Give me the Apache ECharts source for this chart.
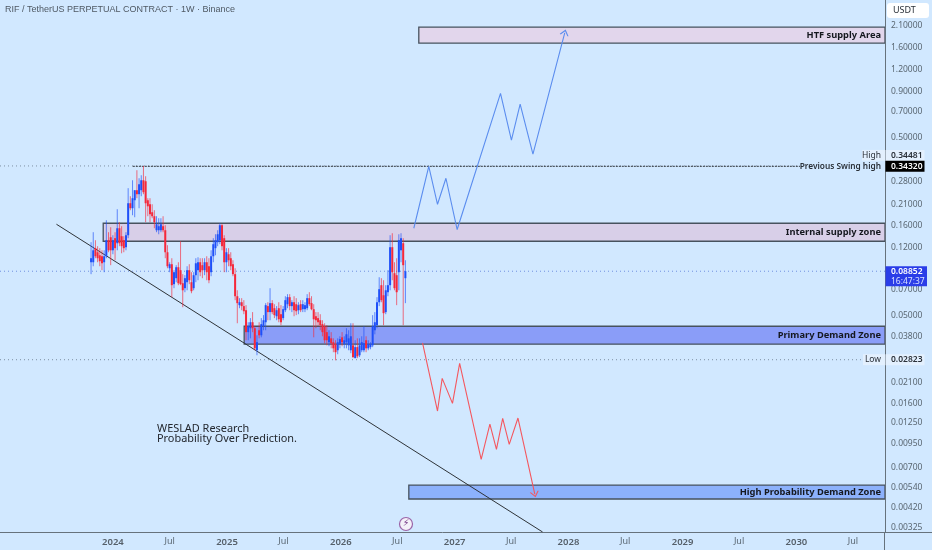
<!DOCTYPE html>
<html><head><meta charset="utf-8">
<style>html,body{margin:0;padding:0;background:#d1e8ff}#c{width:932px;height:550px}</style>
<script src="https://cdn.jsdelivr.net/npm/echarts@6/dist/echarts.min.js"></script>
</head><body><div id="c"></div>
<script>
const opens=[.0994,.0994,.1192,.1131,.1088,.1074,.0994,.1074,.1321,.1373,
.1160,.1356,.1271,.1542,.1391,.1321,.1207,.1409,.2130,.1997,
.2214,.2520,.2393,.2520,.2866,.2829,.2214,.2102,.1896,.1801,
.1503,.1503,.1503,.1583,.1503,.1131,.0920,.0969,.0749,.0809,
.0932,.0897,.0758,.0711,.0768,.0897,.0768,.0711,.0841,.0897,
.0994,.0957,.0897,.0994,.0944,.0874,.1074,.1192,.1288,.1321,
.1603,.1356,.0994,.1102,.1047,.0969,.0852,.0641,.0571,.0593,
.0564,.0535,.0403,.0424,.0458,.0424,.0319,.0413,.0387,.0435,
.0458,.0564,.0522,.0586,.0549,.0495,.0549,.0508,.0483,.0535,
.0578,.0633,.0564,.0593,.0578,.0535,.0578,.0542,.0542,.0549,
.0625,.0586,.0542,.0495,.0483,.0470,.0447,.0435,.0403,.0354,
.0372,.0354,.0345,.0319,.0345,.0377,.0345,.0354,.0340,.0319,
.0340,.0288,.0332,.0299,.0319,.0319,.0363,.0327,.0332,.0340,
.0413,.0441,.0593,.0739,.0649,.0522,.0675,.0739,.1207,.0863,
.0841,.0874,.1160,.1271,.0809];
const highs=[.1288,.1465,.1321,.1223,.1192,.1160,.1160,.1710,.1465,.1562,
.1409,.1465,.1971,.1667,.1583,.1391,.1465,.2587,.2332,.2866,
.2520,.3262,.2941,.3058,.3448,.3019,.2273,.2273,.2102,.1946,
.1801,.1755,.1755,.1801,.1603,.1238,.0994,.1047,.0897,.0957,
.0994,.1304,.0852,.0841,.0944,.0969,.0874,.0874,.1047,.1060,
.1047,.1047,.1047,.1074,.1047,.1160,.1356,.1427,.1503,.1645,
.1624,.1409,.1192,.1192,.1131,.1020,.0920,.0692,.0625,.0625,
.0609,.0571,.0458,.0483,.0522,.0435,.0387,.0458,.0483,.0502,
.0586,.0593,.0711,.0609,.0578,.0564,.0593,.0571,.0564,.0641,
.0658,.0658,.0609,.0641,.0625,.0593,.0609,.0609,.0593,.0658,
.0675,.0641,.0578,.0522,.0522,.0508,.0470,.0452,.0441,.0413,
.0403,.0372,.0363,.0372,.0382,.0403,.0382,.0424,.0413,.0452,
.0452,.0363,.0372,.0372,.0382,.0435,.0382,.0363,.0354,.0502,
.0522,.0633,.0819,.0809,.0788,.0739,.0897,.1409,.1446,.0994,
.1047,.1427,.1446,.1356,.1020];
const lows=[.0852,.0944,.1047,.0994,.0944,.0897,.0874,.1047,.1131,.0957,
.1102,.1020,.1160,.1223,.1116,.1131,.1160,.1356,.1946,.1824,
.1778,.2273,.1997,.2332,.2393,.1667,.1801,.1667,.1755,.1542,
.1465,.1427,.1465,.1465,.1047,.0920,.0874,.0633,.0711,.0768,
.0739,.0739,.0556,.0675,.0692,.0749,.0666,.0692,.0768,.0788,
.0830,.0809,.0841,.0788,.0758,.0830,.0994,.1088,.1223,.1255,
.1160,.0874,.0874,.0944,.0897,.0830,.0609,.0452,.0549,.0535,
.0508,.0363,.0363,.0372,.0403,.0319,.0299,.0372,.0377,.0413,
.0413,.0470,.0470,.0508,.0483,.0470,.0458,.0441,.0470,.0522,
.0549,.0535,.0522,.0495,.0502,.0508,.0522,.0522,.0522,.0535,
.0564,.0535,.0377,.0424,.0435,.0413,.0382,.0349,.0340,.0336,
.0327,.0311,.0280,.0303,.0327,.0336,.0327,.0327,.0319,.0307,
.0288,.0288,.0288,.0292,.0311,.0311,.0311,.0319,.0323,.0332,
.0392,.0424,.0564,.0593,.0441,.0508,.0641,.0692,.0788,.0692,
.0571,.0692,.0994,.0441,.0586];
const closes=[.1047,.1160,.1074,.1047,.1007,.0981,.1074,.1321,.1160,.1160,
.1321,.1192,.1542,.1271,.1223,.1192,.1409,.2130,.1997,.2273,
.2520,.2393,.2722,.2866,.2456,.2130,.2048,.1848,.1801,.1667,
.1624,.1583,.1624,.1503,.1131,.0944,.0969,.0739,.0874,.0932,
.0758,.0749,.0692,.0809,.0897,.0788,.0684,.0841,.0981,.0994,
.0874,.0897,.0994,.0874,.0788,.1074,.1255,.1321,.1427,.1603,
.1223,.0994,.1131,.1020,.0944,.0852,.0641,.0586,.0593,.0564,
.0528,.0403,.0435,.0458,.0424,.0327,.0354,.0387,.0447,.0470,
.0571,.0522,.0586,.0522,.0502,.0535,.0476,.0458,.0542,.0609,
.0633,.0564,.0593,.0535,.0528,.0571,.0535,.0578,.0571,.0625,
.0578,.0542,.0476,.0470,.0458,.0441,.0403,.0363,.0363,.0382,
.0349,.0327,.0311,.0354,.0368,.0354,.0363,.0392,.0372,.0382,
.0292,.0332,.0295,.0340,.0354,.0349,.0327,.0345,.0345,.0435,
.0458,.0593,.0702,.0609,.0515,.0692,.0739,.1207,.0874,.0711,
.0675,.1321,.1356,.0957,.08852];
const lastCandleDate='2026-07-27';

const yTicks=[2.1,1.6,1.2,.9,.7,.5,.28,.21,.16,.12,.07,.05,.038,.021,.016,.0125,.0095,.007,.0054,.0042,.00325];
const xTicks=['2024-01-01','2024-07-01','2025-01-01','2025-07-01','2026-01-01','2026-07-01','2027-01-01','2027-07-01','2028-01-01','2028-07-01','2029-01-01','2029-07-01','2030-01-01','2030-07-01'];

const bullDates=['2026-08-23','2026-10-10','2026-11-07','2026-12-04','2027-01-09','2027-05-28','2027-07-02','2027-07-30','2027-09-09','2027-12-20'];
const bullPrices=[.1542,.3433,.2102,.2941,.1517,.880,.4817,.7664,.4018,1.925];
const bearDates=['2026-09-20','2026-11-07','2026-11-22','2026-12-25','2027-01-17','2027-03-27','2027-04-24','2027-05-15','2027-06-04','2027-06-25','2027-07-23','2027-09-15'];
const bearPrices=[.0351,.01455,.02219,.01606,.02694,.0078,.0123,.00887,.01323,.00946,.01329,.00498];
const trendDates=['2023-07-04','2027-10-10'];
const trendPrices=[.1624,.00305];

const zoneNames=['HTF supply Area','Internal supply zone','Primary Demand Zone','High Probability Demand Zone'];
const zoneStarts=['2026-09-08','2023-12-01','2025-02-25','2026-08-07'];
const zoneTops=[2.07,.1645,.0435,.00559];
const zoneBottoms=[1.685,.1304,.0345,.00467];

const swingHigh=.3432, allHigh=.34481, allLow=.02823, lastPrice=.08852;
const swingStart='2024-03-05';
const AX_MIN=+new Date('2023-01-04'), AX_MAX=+new Date('2030-10-12');

const UP='#1f50f8', DOWN='#f5283a', BG='#d1e8ff', AXTXT='#5a6772';
const ms=d=>+new Date(d);
const WEEK=7*864e5, lastMs=ms(lastCandleDate), N=opens.length;
const candleData=opens.map((o,i)=>[lastMs-(N-1-i)*WEEK,o,highs[i],lows[i],closes[i]]);
const zoneFill=['#e2d6ec','#d8cfe8','#8a9df8','#8cb1fc'];

const renderCandle=(p,api)=>{
  const t=api.value(0),o=api.value(1),h=api.value(2),l=api.value(3),c=api.value(4);
  const col=c>=o?UP:DOWN, x=api.coord([t,o])[0];
  const yo=api.coord([t,o])[1],yc=api.coord([t,c])[1],yh=api.coord([t,h])[1],yl=api.coord([t,l])[1];
  return {type:'group',children:[
    {type:'line',shape:{x1:x,y1:yh,x2:x,y2:yl},style:{stroke:col,lineWidth:1,opacity:.65}},
    {type:'rect',shape:{x:x-1,y:Math.min(yo,yc),width:2,height:Math.max(Math.abs(yo-yc),1)},style:{fill:col}}
  ]};
};
const renderZone=(p,api)=>{
  const i=p.dataIndex;
  const a=api.coord([api.value(0),api.value(1)]), b=api.coord([AX_MAX,api.value(2)]);
  return {type:'group',children:[
    {type:'rect',shape:{x:a[0],y:a[1],width:b[0]-a[0],height:b[1]-a[1]},style:{fill:zoneFill[i],stroke:'#47525e',lineWidth:1.3}},
  ]};
};
const renderZoneText=(p,api)=>{
  const a=api.coord([AX_MAX,api.value(1)]), b=api.coord([AX_MAX,api.value(2)]);
  return {type:'text',style:{x:a[0]-4,y:(a[1]+b[1])/2,text:zoneNames[p.dataIndex],align:'right',verticalAlign:'middle',
    font:'bold 9.3px "Noto Sans"',fill:'#15181f'}};
};
const fmtPx=v=>v.toFixed(5);
const tagBox=[
 {v:allHigh,label:'High',val:fmtPx(allHigh),dy:-10.5,bg:'#e3f0fe',fg:'#2a3038',w:39,lw:23},
 {v:swingHigh,label:'Previous Swing high',val:fmtPx(swingHigh),dy:0,bg:'#000000',fg:'#ffffff',w:39,lw:85,lbg:BG},
 {v:allLow,label:'Low',val:fmtPx(allLow),dy:0,bg:'#e3f0fe',fg:'#2a3038',w:39,lw:22},
];
const renderTag=(p,api)=>{
  const t=tagBox[p.dataIndex], c=api.coord([AX_MAX,api.value(0)]), y=c[1]+t.dy, x=c[0];
  const k=[
    {type:'rect',shape:{x:x-t.lw,y:y-5.5,width:t.lw,height:11},style:{fill:t.lbg||'#e3f0fe'}},
    {type:'text',style:{x:x-4,y:y,text:t.label,align:'right',verticalAlign:'middle',font:(t.lbg?'600 8.3px ':'8.5px ')+'"Noto Sans"',fill:'#2a3038'}},
    {type:'rect',shape:{x:x+.5,y:y-5.5,width:t.w,height:11},style:{fill:t.bg}},
    {type:'text',style:{x:x+6,y:y,text:t.val,align:'left',verticalAlign:'middle',font:'600 8.5px "Noto Sans"',fill:t.fg}}
  ];
  return {type:'group',children:k};
};
const renderLast=(p,api)=>{
  const c=api.coord([AX_MAX,api.value(0)]), x=c[0], y=c[1];
  return {type:'group',children:[
    {type:'rect',shape:{x:x+.5,y:y-5,width:41.5,height:20},style:{fill:'#2a3de8'}},
    {type:'text',style:{x:x+6,y:y+.5,text:fmtPx(lastPrice),verticalAlign:'middle',font:'600 8.5px "Noto Sans"',fill:'#fff'}},
    {type:'text',style:{x:x+6,y:y+10,text:'16:47:37',verticalAlign:'middle',font:'8.5px "Noto Sans"',fill:'#d8e0ff'}}
  ]};
};
const flat=(v,style,from)=>({type:'line',data:[[from||AX_MIN,v],[AX_MAX,v]],showSymbol:false,symbol:'none',silent:true,lineStyle:style,z:3,animation:false});
const path=(dates,prices,color,rot)=>({type:'line',z:6,animation:false,silent:true,symbol:'none',
  lineStyle:{color,width:1.1},
  data:dates.map((d,i)=>{
    const item={value:[ms(d),prices[i]]};
    if(i===dates.length-1){item.symbol='path://M0,6L4,0L8,6';item.symbolSize=[8,5];item.symbolRotate=rot;
      item.itemStyle={color:'transparent',borderColor:color,borderWidth:1};}
    return item;
  })});

const chart=echarts.init(document.getElementById('c'),null,{renderer:'canvas'});
chart.setOption({
  animation:false,backgroundColor:BG,
  title:[
    {text:'RIF / TetherUS PERPETUAL CONTRACT · 1W · Binance',left:5,top:5,padding:0,textStyle:{fontFamily:'Liberation Sans',fontSize:9,fontWeight:'normal',color:'#4f5964'}},
    {text:'WESLAD Research\nProbability Over Prediction.',left:157,top:424,padding:0,textStyle:{fontFamily:'Noto Sans',fontSize:10.9,fontWeight:'normal',color:'#23272e',lineHeight:10}}
  ],
  grid:{left:0,right:47,top:0,bottom:18,containLabel:false},
  xAxis:{type:'value',min:AX_MIN,max:AX_MAX,splitLine:{show:false},
    axisLine:{show:true,lineStyle:{color:'#66727c',width:1}},axisTick:{show:false},
    axisLabel:{show:true,margin:5,hideOverlap:false,customValues:xTicks.map(ms),fontFamily:'Noto Sans',
      formatter:v=>{const d=new Date(v);return d.getUTCMonth()===0?'{y|'+d.getUTCFullYear()+'}':'{m|Jul}';},
      rich:{y:{fontFamily:'Noto Sans',fontSize:9.5,fontWeight:600,color:'#555f69'},m:{fontFamily:'Noto Sans',fontSize:9,color:AXTXT}}}},
  yAxis:{type:'log',logBase:10,min:.00305,max:2.94,position:'right',splitLine:{show:false},
    axisLine:{show:true,lineStyle:{color:'#66727c',width:1}},axisTick:{show:false},minorTick:{show:false},
    axisLabel:{show:true,margin:6,hideOverlap:false,customValues:yTicks,fontFamily:'Noto Sans',fontSize:8.5,color:AXTXT,padding:[4,0,0,0],formatter:v=>(+v).toFixed(5)}},
  series:[
    {type:'custom',name:'zones',coordinateSystem:'cartesian2d',z:1,silent:true,clip:true,renderItem:renderZone,encode:{x:0,y:1},
      data:zoneStarts.map((d,i)=>[ms(d),zoneTops[i],zoneBottoms[i]])},
    flat(allHigh,{color:'#7d8fa3',width:1,type:[1,3]}),
    flat(allLow,{color:'#7d8fa3',width:1,type:[1,3]}),
    flat(lastPrice,{color:'#6f8fe0',width:1,type:[1,3]}),
    flat(swingHigh,{color:'#30363c',width:1,type:[2,1]},ms(swingStart)),
    {type:'line',name:'trend',z:4,symbol:'none',silent:true,lineStyle:{color:'#2e3338',width:1},data:trendDates.map((d,i)=>[ms(d),trendPrices[i]])},
    {type:'custom',name:'RIF',coordinateSystem:'cartesian2d',z:5,silent:true,renderItem:renderCandle,encode:{x:0,y:[1,2,3,4]},data:candleData},
    path(bullDates,bullPrices,'#5b8def',-15),
    path(bearDates,bearPrices,'#f4575f',193),
    {type:'custom',name:'zoneLabels',coordinateSystem:'cartesian2d',z:7,silent:true,renderItem:renderZoneText,encode:{x:0,y:1},
      data:zoneStarts.map((d,i)=>[AX_MAX,zoneTops[i],zoneBottoms[i]])},
    {type:'custom',name:'tags',coordinateSystem:'cartesian2d',z:9,clip:false,silent:true,renderItem:renderTag,encode:{y:0},data:tagBox.map(t=>[t.v])},
    {type:'custom',name:'last',coordinateSystem:'cartesian2d',z:9,clip:false,silent:true,renderItem:renderLast,encode:{y:0},data:[[lastPrice]]}
  ],
  graphic:[
    {type:'line',shape:{x1:885,y1:532.5,x2:932,y2:532.5},style:{stroke:'#66727c',lineWidth:1},silent:true},
    {type:'line',shape:{x1:884.5,y1:532,x2:884.5,y2:550},style:{stroke:'#66727c',lineWidth:1},silent:true},
    {type:'rect',shape:{x:887,y:3,width:42,height:15,r:3},style:{fill:'#ffffff'},silent:true},
    {type:'text',style:{x:893,y:10.5,text:'USDT',verticalAlign:'middle',font:'9px "Noto Sans"',fill:'#2a3038'},silent:true},
    {type:'circle',shape:{cx:406,cy:524,r:6.5},style:{fill:'#f4f0f8',stroke:'#9a64a8',lineWidth:1.2},silent:true},
    {type:'text',style:{x:406,y:524,text:'⚡',align:'center',verticalAlign:'middle',font:'9.5px "DejaVu Sans"',fill:'#7a3f8a'},silent:true}
  ]
});
</script></body></html>
